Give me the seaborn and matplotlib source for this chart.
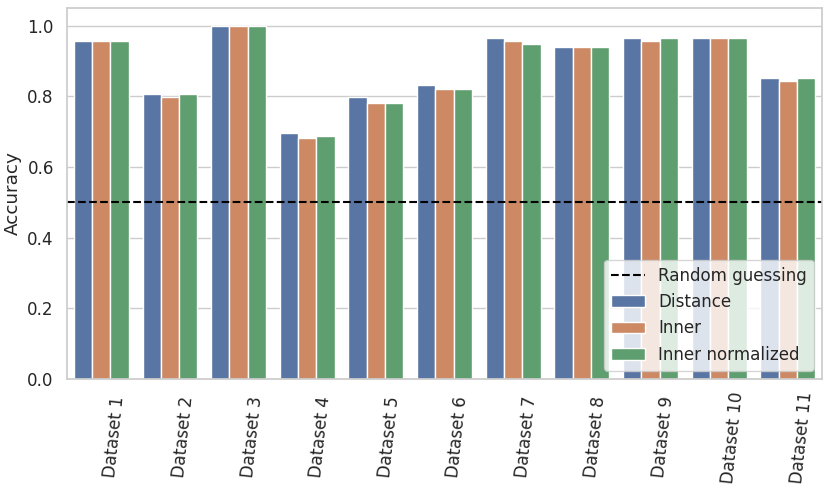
import pandas as pd
import matplotlib
matplotlib.use('Agg')
import matplotlib.pyplot as plt
import seaborn as sns

datasets = ['Dataset 1', 'Dataset 2', 'Dataset 3', 'Dataset 4', 'Dataset 5', 'Dataset 6',
            'Dataset 7', 'Dataset 8', 'Dataset 9', 'Dataset 10', 'Dataset 11']
methods = ['Distance', 'Inner', 'Inner normalized']

distance = [0.957, 0.807, 1.0, 0.696, 0.798, 0.831, 0.965, 0.940, 0.965, 0.964, 0.852]
inner = [0.957, 0.798, 1.0, 0.681, 0.781, 0.822, 0.957, 0.940, 0.957, 0.964, 0.844]
inner_normalized = [0.957, 0.807, 1.0, 0.689, 0.781, 0.822, 0.949, 0.940, 0.965, 0.964, 0.852]

random_guess = 0.5

#Long format table for seaborn
df = pd.DataFrame({
    'Dataset': datasets * 3,
    'Method': [methods[0]] * len(datasets) + [methods[1]] * len(datasets) + [methods[2]] * len(datasets),
    'Accuracy': distance + inner + inner_normalized,
})

sns.set_theme(style='whitegrid', font_scale=1.1)

fig, ax = plt.subplots(figsize=(8.3, 4.93), dpi=100)
sns.barplot(data=df, x='Dataset', y='Accuracy', hue='Method', hue_order=methods, ax=ax)
ax.axhline(random_guess, color='black', linestyle='--', label='Random guessing')

ax.set_xlabel('')
ax.set_ylabel('Accuracy')
ax.tick_params(axis='x', length=0, pad=42)
plt.setp(ax.get_xticklabels(), rotation=84, ha='left', va='center')

#Random guessing line first in the legend
handles, labels = ax.get_legend_handles_labels()
order = [labels.index('Random guessing')] + [labels.index(m) for m in methods]
ax.legend([handles[i] for i in order], [labels[i] for i in order], loc='lower right')

fig.subplots_adjust(left=67 / 830, right=822 / 830, top=1 - 8 / 493, bottom=1 - 379 / 493)
fig.savefig('out.png', dpi=100)
